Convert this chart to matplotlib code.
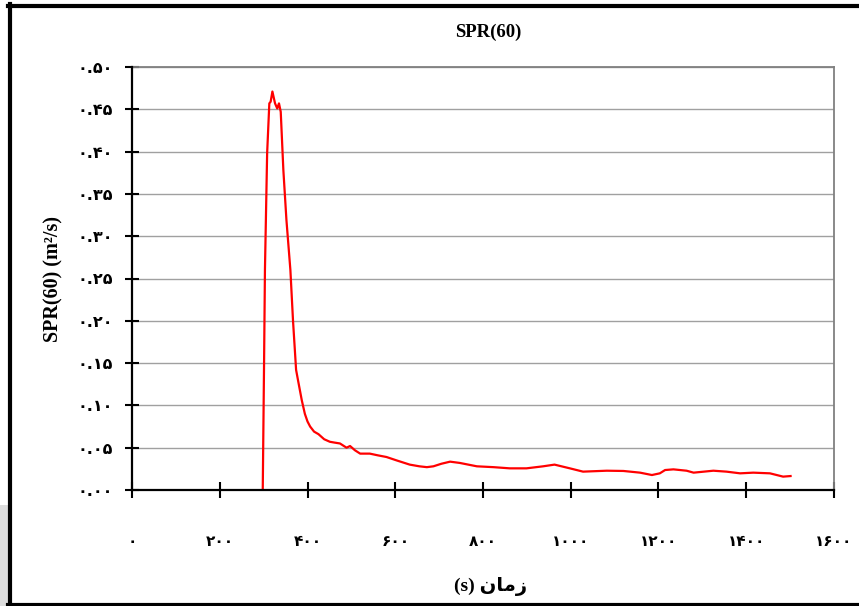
import matplotlib
matplotlib.use('Agg')
import matplotlib.pyplot as plt
from matplotlib.patches import Rectangle
from matplotlib.lines import Line2D

# داده‌ها (خوانده شده از نمودار)
time_s = [298, 301, 303, 308, 313, 316, 320, 326, 331, 335, 339, 345, 352, 361,
          367, 374, 379, 387, 394, 400, 406, 415, 425, 438, 451, 462, 474, 489,
          497, 508, 520, 542, 560, 580, 603, 633, 655, 672, 687, 705, 725, 747,
          786, 824, 861, 899, 937, 963, 998, 1028, 1082, 1120, 1158, 1185, 1203,
          1215, 1234, 1264, 1280, 1325, 1355, 1386, 1416, 1454, 1484, 1501]
spr60 = [0.0, 0.15, 0.26, 0.398, 0.457, 0.459, 0.471, 0.457, 0.451, 0.457, 0.447,
         0.378, 0.319, 0.26, 0.2, 0.142, 0.128, 0.106, 0.090, 0.081, 0.075, 0.069,
         0.066, 0.060, 0.057, 0.056, 0.055, 0.050, 0.052, 0.047, 0.043, 0.043,
         0.041, 0.039, 0.035, 0.030, 0.028, 0.027, 0.028, 0.031, 0.0335, 0.032,
         0.028, 0.027, 0.0256, 0.0256, 0.028, 0.030, 0.0256, 0.0217, 0.0228,
         0.0225, 0.0205, 0.0177, 0.0197, 0.0236, 0.0244, 0.0228, 0.0205, 0.0228,
         0.0217, 0.0197, 0.0205, 0.0197, 0.0158, 0.0165]

x_ticks = [0, 200, 400, 600, 800, 1000, 1200, 1400, 1600]
x_labels = ['۰', '۲۰۰', '۴۰۰', '۶۰۰', '۸۰۰', '۱۰۰۰', '۱۲۰۰', '۱۴۰۰', '۱۶۰۰']
y_ticks = [0.0, 0.05, 0.10, 0.15, 0.20, 0.25, 0.30, 0.35, 0.40, 0.45, 0.50]
y_labels = ['۰.۰۰', '۰.۰۵', '۰.۱۰', '۰.۱۵', '۰.۲۰', '۰.۲۵',
            '۰.۳۰', '۰.۳۵', '۰.۴۰', '۰.۴۵', '۰.۵۰']

fig = plt.figure(figsize=(8.59, 6.06), dpi=100, facecolor='white')
W, H = 859, 606

# سایه خاکستری و قاب سیاه دور شکل
fig.patches.append(Rectangle((0, 0), 8 / W, 1 - 505 / H, transform=fig.transFigure,
                             facecolor='#dcdcdc', edgecolor='none'))
for xs, ys in [([8 / W, 1], [1 - 5.5 / H] * 2),
               ([10.3 / W] * 2, [0, 1 - 4 / H]),
               ([8 / W, 1], [1 - 604.5 / H] * 2)]:
    fig.add_artist(Line2D(xs, ys, transform=fig.transFigure, color='black', lw=3))

ax = fig.add_axes([132 / W, 1 - 490 / H, (834 - 132) / W, (490 - 67) / H])
ax.set_xlim(0, 1600)
ax.set_ylim(0, 0.5)

ax.plot(time_s, spr60, color='#ff0000', lw=1.6, zorder=3)

ax.yaxis.grid(True, color='#a0a0a0', lw=1.0)
ax.set_axisbelow(True)

for s in ['left', 'bottom']:
    ax.spines[s].set_color('black')
    ax.spines[s].set_linewidth(1.6)
    ax.spines[s].set_zorder(4)
for s in ['top', 'right']:
    ax.spines[s].set_color('#808080')
    ax.spines[s].set_linewidth(1.3)

ax.set_xticks(x_ticks)
ax.set_xticklabels(x_labels, family=['DejaVu Sans'], fontweight='bold', fontsize=11)
ax.set_yticks(y_ticks)
ax.set_yticklabels(y_labels, family=['DejaVu Sans'], fontweight='bold', fontsize=11.5)
ax.tick_params(axis='x', direction='inout', length=11, width=1.5, pad=26)
ax.tick_params(axis='y', direction='inout', length=10, width=1.5, pad=8.5)

fig.text(488 / W, 1 - 32 / H, 'SPR(60)', family='Liberation Serif',
         fontweight='bold', fontsize=13.5, ha='center', va='center')

ax.set_ylabel('SPR(60) (m²/s)', family='Liberation Serif', fontweight='bold',
              fontsize=14.5, labelpad=10)

# متن فارسی به صورت اشکال نمایشی (از چپ به راست)
fig.text(491 / W, 1 - 586 / H, '(s) \uFEE5\uFE8E\uFEE3\uFEAF',
         family=['Liberation Serif', 'DejaVu Sans'], fontweight='bold',
         fontsize=14, ha='center', va='center')

plt.savefig('out.png', dpi=100, facecolor='white')
